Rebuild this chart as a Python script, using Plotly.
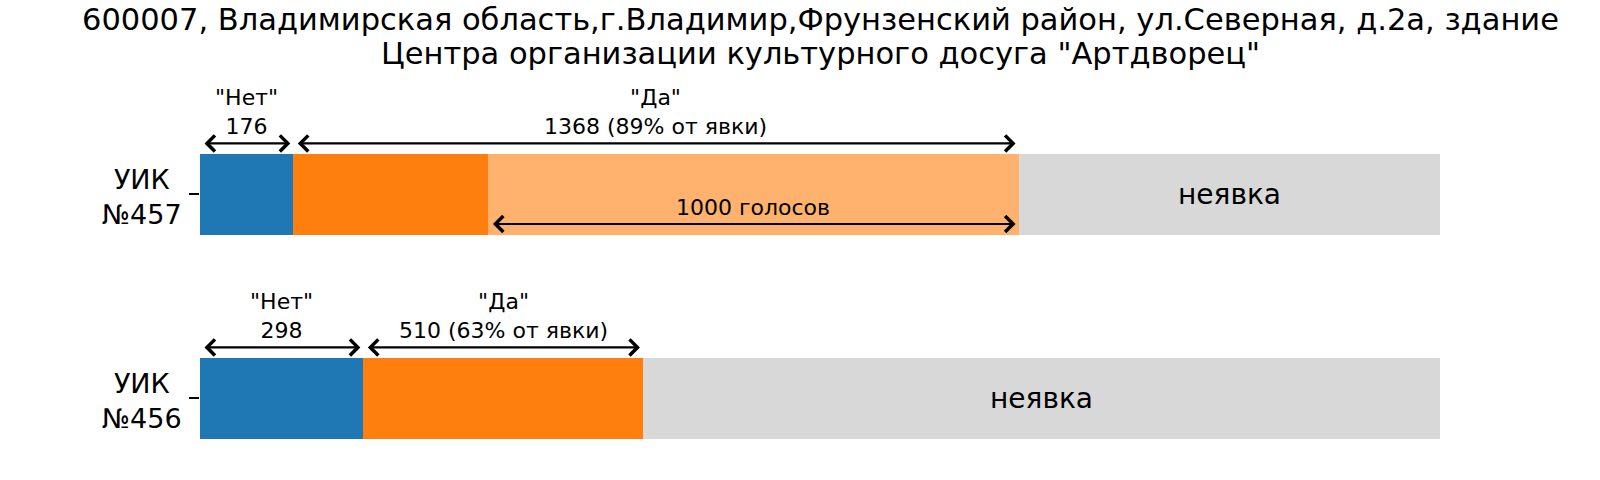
import plotly.graph_objects as go

# ---- data ----
uik_labels = ["УИК<br>№456", "УИК<br>№457"]
net_votes = [298, 176]          # "Нет"
da_votes = [510, 1368]          # "Да"
highlight_votes = [0, 1000]     # part of "Да" highlighted ("1000 голосов")
registered = [2262, 2339]       # estimated number of voters on the lists
title_lines = ["600007, Владимирская область,г.Владимир,Фрунзенский район, ул.Северная, д.2а, здание",
               "Центра организации культурного досуга \"Артдворец\""]

rows = list(range(len(uik_labels)))
blue = "#1f77b4"
orange = "#ff7f0e"
light_orange = "#ffb26e"
grey = "#d8d8d8"
FONT = "DejaVu Sans"

net_f = [n / r for n, r in zip(net_votes, registered)]
da_main_f = [(d - h) / r for d, h, r in zip(da_votes, highlight_votes, registered)]
hl_f = [h / r for h, r in zip(highlight_votes, registered)]
absent_f = [(r - n - d) / r for n, d, r in zip(net_votes, da_votes, registered)]

fig = go.Figure()
for vals, col in [(net_f, blue), (da_main_f, orange), (hl_f, light_orange), (absent_f, grey)]:
    fig.add_trace(go.Bar(y=rows, x=vals, orientation="h", width=0.4,
                         marker=dict(color=col, line=dict(width=0)),
                         showlegend=False, hoverinfo="skip"))

ann = []

def arrow(x0, x1, y):
    ann.append(dict(x=x1, y=y, ax=x0, ay=y, xref="x", yref="y", axref="x", ayref="y",
                    text="", showarrow=True, arrowside="end+start",
                    arrowhead=4, startarrowhead=4, arrowwidth=2.2, arrowsize=1.4,
                    startarrowsize=1.4, arrowcolor="black", standoff=3, startstandoff=3))

def label(x, y, text, size=22, yshift=2):
    ann.append(dict(x=x, y=y, xref="x", yref="y", text=text, showarrow=False,
                    yanchor="bottom", xanchor="center", yshift=yshift, align="center",
                    font=dict(family=FONT, size=size, color="black")))

for i in rows:
    n0, n1 = 0, net_f[i]
    d1 = net_f[i] + da_main_f[i] + hl_f[i]
    ya = i + 0.25
    arrow(n0, n1, ya)
    arrow(n1, d1, ya)
    label((n0 + n1) / 2, ya, f"\"Нет\"<br>{net_votes[i]}")
    pct = round(100 * da_votes[i] / (net_votes[i] + da_votes[i]))
    label((n1 + d1) / 2, ya, f"\"Да\"<br>{da_votes[i]} ({pct}% от явки)")
    if highlight_votes[i] > 0:
        h0 = net_f[i] + da_main_f[i]
        yh = i - 0.145
        arrow(h0, d1, yh)
        label((h0 + d1) / 2, yh, f"{highlight_votes[i]} голосов")
    # неявка
    ann.append(dict(x=(d1 + 1) / 2, y=i, xref="x", yref="y", text="неявка", showarrow=False,
                    xanchor="center", yanchor="middle",
                    font=dict(family=FONT, size=28, color="black")))
    # row label
    ann.append(dict(x=0, y=i, xref="paper", yref="y", text=uik_labels[i], showarrow=False,
                    xanchor="right", yanchor="middle", xshift=-16, yshift=-3, align="center",
                    font=dict(family=FONT, size=27, color="black")))

# title lines as annotations above the plot area
for line, shift in zip(title_lines, [53, 19]):
    ann.append(dict(x=0.5, y=1, xref="paper", yref="paper", text=line, showarrow=False,
                    xanchor="center", yanchor="middle", yshift=shift, align="center",
                    font=dict(family=FONT, size=30.5, color="black")))

fig.update_layout(
    width=1600, height=480,
    barmode="stack",
    plot_bgcolor="white", paper_bgcolor="white",
    margin=dict(l=200, r=160, t=72, b=0),
    xaxis=dict(range=[0, 1], visible=False),
    yaxis=dict(range=[-0.4, 1.6], tickvals=rows, showticklabels=False,
               ticks="outside", ticklen=10, tickwidth=1.6, tickcolor="black",
               showgrid=False, zeroline=False, showline=False),
    annotations=ann,
    font=dict(family=FONT),
)

fig.write_html("out.html", config={"displayModeBar": False},
               post_script="document.body.style.margin='0px';")
